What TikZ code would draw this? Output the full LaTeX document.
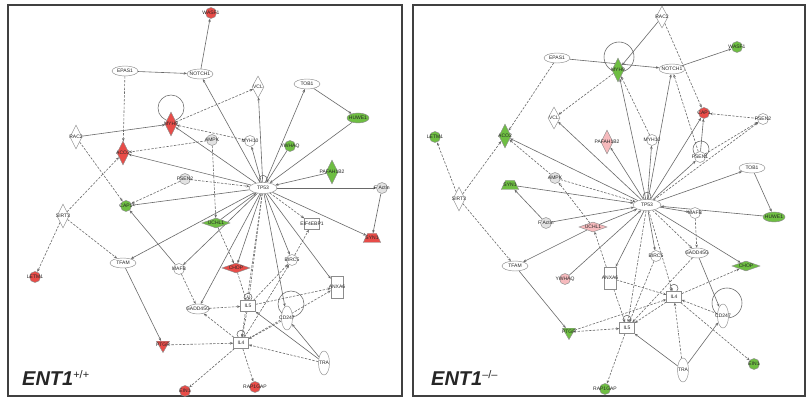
\documentclass[tikz,border=0pt]{standalone}
\usepackage{fontspec}
\setsansfont{Liberation Sans}
\usetikzlibrary{shapes.geometric,arrows.meta}
\pgfdeclarelayer{bg}
\pgfdeclarelayer{edges}
\pgfsetlayers{bg,edges,main}
\definecolor{ipred}{RGB}{232,76,72}
\definecolor{ippink}{RGB}{246,186,189}
\definecolor{ipgreen}{RGB}{110,190,66}
\definecolor{ipgray}{RGB}{226,226,226}
\definecolor{edgec}{RGB}{105,105,105}
\tikzset{
  lb/.style={font=\fontsize{5}{6}\selectfont\sffamily, text=black!85, inner sep=0pt},
  nd/.style={draw=black!45, line width=0.45pt, inner sep=0pt, fill=white, label={[lb]center:#1}},
  ell/.style={nd=#1, ellipse, minimum width=26pt, minimum height=10pt},
  vell/.style={nd=#1, ellipse, minimum width=11pt, minimum height=24pt},
  circ/.style={nd=#1, circle, minimum size=11pt},
  dia/.style={nd=#1, diamond, minimum width=12pt, minimum height=24pt},
  hdia/.style={nd=#1, diamond, minimum width=28pt, minimum height=10pt},
  boxn/.style={nd=#1, rectangle, minimum width=15pt, minimum height=11pt},
  tallbox/.style={nd=#1, rectangle, minimum width=12pt, minimum height=22pt},
  tri/.style={nd=#1, regular polygon, regular polygon sides=3, shape border rotate=180, minimum size=15pt},
  trap/.style={nd=#1, trapezium, trapezium left angle=65, trapezium right angle=65, inner sep=1pt, minimum width=13pt, minimum height=9pt},
  e/.style={draw=edgec, line width=0.6pt, -{Stealth[length=3.2pt,width=2.6pt]}},
  d/.style={e, dash pattern=on 2.4pt off 1.4pt},
  lp/.style={draw=black!60, line width=0.55pt},
  frame/.style={draw=black!75, line width=1.6pt},
  title/.style={font=\sffamily\bfseries\itshape\fontsize{20}{22}\selectfont, text=black!85, inner sep=0pt, anchor=base west}
}
\begin{document}
\begin{tikzpicture}[x=1pt,y=-1pt]
\useasboundingbox (0,0) rectangle (807,398);
\begin{pgfonlayer}{bg}
\fill[white] (0,0) rectangle (807,398);
\end{pgfonlayer}
\draw[frame] (8,5) rectangle (402,396);
\draw[frame] (413,5) rectangle (805,396);

% ================= LEFT PANEL =================
\node[ell=EPAS1] (LEPAS1) at (125,71) {};
\node[ell=NOTCH1] (LNOTCH1) at (200,74) {};
\node[circ=WASF1, fill=ipred] (LWASF1) at (211,13) {};
\node[dia=MYH9, fill=ipred] (LMYH9) at (171,124) {};
\node[dia=RAC2] (LRAC2) at (76,137) {};
\node[dia=ACO2, fill=ipred] (LACO2) at (123,153) {};
\node[dia=VCL, minimum height=22pt] (LVCL) at (258,87) {};
\node[ell=TOB1] (LTOB1) at (307,84) {};
\node[ell=HUWE1, fill=ipgreen, minimum width=22pt] (LHUWE1) at (358,118) {};
\node[circ=AMPK, fill=ipgray] (LAMPK) at (212,140) {};
\node[circ=MYH10] (LMYH10) at (250,141) {};
\node[circ=YWHAQ, fill=ipgreen] (LYWHAQ) at (290,146) {};
\node[dia=PAFAH1B2, fill=ipgreen] (LPAFAH1B2) at (332,172) {};
\node[circ=PSEN2, fill=ipgray] (LPSEN2) at (185,179) {};
\node[ell=TP53, minimum width=28pt, minimum height=11pt] (LTP53) at (263,188) {};
\node[circ=F Actin, fill=ipgray] (LFACTIN) at (382,188) {};
\node[dia=SIRT3] (LSIRT3) at (63,216) {};
\node[circ=CAP1, fill=ipgreen] (LCAP1) at (126,206) {};
\node[ell=TFAM] (LTFAM) at (123,263) {};
\node[circ=LETM1, fill=ipred] (LLETM1) at (35,277) {};
\node[circ=MAFB] (LMAFB) at (179,269) {};
\node[hdia=UCHL1, fill=ipgreen] (LUCHL1) at (216,223) {};
\node[boxn=EIF4EBP1] (LEIF4EBP1) at (312,224) {};
\node[trap=SYN1, fill=ipred] (LSYN1) at (372,238) {};
\node[hdia=CHOP, fill=ipred] (LCHOP) at (236,268) {};
\node[circ=BIRC5] (LBIRC5) at (292,260) {};
\node[tallbox=ANXA6] (LANXA6) at (337,287) {};
\node[boxn=IL5] (LIL5) at (248,306) {};
\node[ell=GADD45G, minimum width=22pt] (LGADD) at (198,309) {};
\node[vell=CD247] (LCD247) at (287,318) {};
\node[boxn=IL4] (LIL4) at (241,343) {};
\node[tri=PTGR, fill=ipred] (LPTGR) at (163,345) {};
\node[vell=TRA] (LTRA) at (324,363) {};
\node[circ=RAP1GAP, fill=ipred] (LRAP1GAP) at (255,387) {};
\node[circ=EIN1, fill=ipred] (LEIN1) at (185,391) {};

\begin{pgfonlayer}{edges}
\draw[lp] (LMYH9.center) ++(0,-16) circle (13);
\draw[lp] (LCD247.center) ++(4,-14) circle (13);
\draw[lp] (LTP53.north) ++(0,-3) circle (4);
\draw[lp] (LIL5.north) ++(0,-3) circle (4);
\draw[lp] (LIL4.north) ++(0,-3) circle (4);
\draw[e] (LEPAS1) -- (LNOTCH1);
\draw[d] (LEPAS1) -- (LACO2);
\draw[e] (LNOTCH1) -- (LWASF1);
\draw[e] (LRAC2) -- (LMYH9);
\draw[d] (LRAC2) -- (LCAP1);
\draw[d] (LSIRT3) -- (LACO2);
\draw[d] (LSIRT3) -- (LLETM1);
\draw[d] (LSIRT3) -- (LTFAM);
\draw[e] (LTFAM) -- (LPTGR);
\draw[e] (LTP53) -- (LTFAM);
\draw[e] (LTP53) -- (LCAP1);
\draw[e] (LMAFB) -- (LCAP1);
\draw[e] (LTP53) -- (LMAFB);
\draw[d] (LPSEN2) -- (LCAP1);
\draw[d] (LPSEN2) -- (LTP53);
\draw[e] (LTP53) -- (LACO2);
\draw[d] (LAMPK) -- (LACO2);
\draw[d] (LMYH10) -- (LMYH9);
\draw[e] (LTP53) -- (LMYH9);
\draw[d] (LMYH9) -- (LVCL);
\draw[e] (LTP53) -- (LVCL);
\draw[e] (LTP53) -- (LNOTCH1);
\draw[e] (LTP53) -- (LTOB1);
\draw[e] (LTOB1) -- (LHUWE1);
\draw[e] (LHUWE1) -- (LTP53);
\draw[e] (LYWHAQ) -- (LTP53);
\draw[e] (LPAFAH1B2) -- (LTP53);
\draw[e] (LTP53) -- (LFACTIN);
\draw[e] (LFACTIN) -- (LSYN1);
\draw[e] (LTP53) -- (LMYH10);
\draw[d] (LAMPK) -- (LUCHL1);
\draw[e] (LUCHL1) -- (LTP53);
\draw[d] (LUCHL1) -- (LCHOP);
\draw[e] (LTP53) -- (LCHOP);
\draw[d] (LTP53) -- (LEIF4EBP1);
\draw[e] (LTP53) -- (LBIRC5);
\draw[e] (LTP53) -- (LANXA6);
\draw[e] (LTP53) -- (LSYN1);
\draw[e] (LTP53) -- (LGADD);
\draw[d] (LTP53) -- (LIL5);
\draw[d] (LTP53) -- (LIL4);
\draw[e] (LTP53) -- (LCD247);
\draw[d] (LBIRC5) -- (LEIF4EBP1);
\draw[d] (LIL5) -- (LBIRC5);
\draw[d] (LIL4) -- (LBIRC5);
\draw[d] (LGADD) -- (LIL5);
\draw[d] (LIL4) -- (LANXA6);
\draw[d] (LIL5) -- (LANXA6);
\draw[e] (LTRA) -- (LCD247);
\draw[d] (LTRA) -- (LIL4);
\draw[e] (LTRA) -- (LIL5);
\draw[d] (LCD247) -- (LIL4);
\draw[d] (LIL4) -- (LRAP1GAP);
\draw[d] (LIL4) -- (LEIN1);
\draw[d] (LPTGR) -- (LIL4);
\draw[d] (LMAFB) -- (LGADD);
\draw[d] (LIL4) -- (LGADD);
\draw[d] (LCHOP) -- (LIL5);
\draw[d] (LIL5) -- (LIL4);
\end{pgfonlayer}

\node[title] (LT) at (22,386) {ENT1\textsuperscript{\mdseries\upshape\fontsize{11}{12}\selectfont +/+}};

% ================= RIGHT PANEL =================
\node[dia=RAC2, minimum height=22pt] (RRAC2) at (662,17) {};
\node[ell=EPAS1] (REPAS1) at (557,58) {};
\node[dia=MYH9, fill=ipgreen] (RMYH9) at (618,70) {};
\node[ell=NOTCH1] (RNOTCH1) at (672,69) {};
\node[circ=WASF1, fill=ipgreen] (RWASF1) at (737,47) {};
\node[circ=LETM1, fill=ipgreen] (RLETM1) at (435,137) {};
\node[dia=ACO2, fill=ipgreen] (RACO2) at (505,136) {};
\node[dia=VCL, minimum height=22pt] (RVCL) at (554,118) {};
\node[dia=PAFAH1B2, fill=ippink] (RPAFAH1B2) at (607,142) {};
\node[circ=MYH10] (RMYH10) at (652,140) {};
\node[circ=CAP1, fill=ipred] (RCAP1) at (704,113) {};
\node[circ=PSEN2] (RPSEN2) at (763,119) {};
\node[circ=PSEN1] (RPSEN1) at (700,157) {};
\node[ell=TOB1] (RTOB1) at (752,168) {};
\node[circ=AMPK, fill=ipgray] (RAMPK) at (555,178) {};
\node[trap=SYN1, fill=ipgreen] (RSYN1) at (510,185) {};
\node[ell=TP53, minimum width=28pt, minimum height=11pt] (RTP53) at (647,205) {};
\node[circ=MAFB] (RMAFB) at (695,213) {};
\node[ell=HUWE1, fill=ipgreen, minimum width=22pt] (RHUWE1) at (774,217) {};
\node[dia=SIRT3] (RSIRT3) at (459,199) {};
\node[circ=F Actin, fill=ipgray] (RFACTIN) at (546,223) {};
\node[hdia=UCHL1, fill=ippink] (RUCHL1) at (593,227) {};
\node[circ=BIRC5] (RBIRC5) at (656,256) {};
\node[ell=GADD45G, minimum width=22pt] (RGADD) at (697,253) {};
\node[hdia=CHOP, fill=ipgreen] (RCHOP) at (746,266) {};
\node[ell=TFAM] (RTFAM) at (515,266) {};
\node[circ=YWHAQ, fill=ippink] (RYWHAQ) at (565,279) {};
\node[tallbox=ANXA6] (RANXA6) at (610,278) {};
\node[boxn=IL4] (RIL4) at (674,297) {};
\node[vell=CD247] (RCD247) at (723,316) {};
\node[boxn=IL5] (RIL5) at (627,328) {};
\node[tri=PTGR, fill=ipgreen] (RPTGR) at (569,332) {};
\node[vell=TRA] (RTRA) at (683,370) {};
\node[circ=EIN1, fill=ipgreen] (REIN1) at (754,364) {};
\node[circ=RAP1GAP, fill=ipgreen] (RRAP1GAP) at (605,389) {};

\begin{pgfonlayer}{edges}
\draw[lp] (RMYH9.center) ++(1,-13) circle (15);
\draw[lp] (RCD247.center) ++(4,-13) circle (15);
\draw[lp] (RPSEN1.center) ++(1,-8) circle (8);
\draw[lp] (RTP53.north) ++(0,-3) circle (4);
\draw[lp] (RIL5.north) ++(0,-3) circle (4);
\draw[lp] (RIL4.north) ++(0,-3) circle (4);
\draw[e] (REPAS1) -- (RNOTCH1);
\draw[d] (REPAS1) -- (RACO2);
\draw[d] (RMYH9) -- (RVCL);
\draw[e] (RRAC2) -- (RMYH9);
\draw[d] (RRAC2) -- (RCAP1);
\draw[e] (RNOTCH1) -- (RWASF1);
\draw[e] (RTP53) -- (RNOTCH1);
\draw[e] (RTP53) -- (RMYH9);
\draw[d] (RMYH10) -- (RMYH9);
\draw[e] (RTP53) -- (RMYH10);
\draw[e] (RTP53) -- (RCAP1);
\draw[e] (RPSEN1) -- (RCAP1);
\draw[d] (RPSEN2) -- (RCAP1);
\draw[d] (RPSEN1) -- (RPSEN2);
\draw[d] (RTP53) -- (RPSEN2);
\draw[d] (RPSEN1) -- (RNOTCH1);
\draw[e] (RTP53) -- (RPSEN1);
\draw[e] (RTP53) -- (RTOB1);
\draw[e] (RTOB1) -- (RHUWE1);
\draw[e] (RHUWE1) -- (RTP53);
\draw[e] (RTP53) -- (RPAFAH1B2);
\draw[e] (RTP53) -- (RVCL);
\draw[e] (RTP53) -- (RACO2);
\draw[d] (RAMPK) -- (RACO2);
\draw[e] (RSYN1) -- (RTP53);
\draw[d] (RAMPK) -- (RTP53);
\draw[e] (RFACTIN) -- (RSYN1);
\draw[e] (RFACTIN) -- (RTP53);
\draw[d] (RUCHL1) -- (RAMPK);
\draw[e] (RUCHL1) -- (RTP53);
\draw[e] (RUCHL1) -- (RTFAM);
\draw[e] (RYWHAQ) -- (RTP53);
\draw[d] (RSIRT3) -- (RACO2);
\draw[d] (RSIRT3) -- (RLETM1);
\draw[d] (RSIRT3) -- (RTFAM);
\draw[e] (RTFAM) -- (RPTGR);
\draw[d] (RPTGR) -- (RIL5);
\draw[d] (RPTGR) -- (RIL4);
\draw[d] (RANXA6) -- (RUCHL1);
\draw[e] (RTP53) -- (RANXA6);
\draw[e] (RTP53) -- (RBIRC5);
\draw[d] (RTP53) -- (RGADD);
\draw[e] (RTP53) -- (RMAFB);
\draw[e] (RTP53) -- (RCHOP);
\draw[d] (RTP53) -- (RIL5);
\draw[d] (RTP53) -- (RIL4);
\draw[d] (RMAFB) -- (RGADD);
\draw[e] (RGADD) -- (RCD247);
\draw[d] (RIL4) -- (RCHOP);
\draw[d] (RIL4) -- (REIN1);
\draw[d] (RIL5) -- (RRAP1GAP);
\draw[e] (RTRA) -- (RCD247);
\draw[d] (RTRA) -- (RIL4);
\draw[e] (RTRA) -- (RIL5);
\draw[d] (RCD247) -- (RIL4);
\draw[d] (RANXA6) -- (RIL5);
\draw[d] (RANXA6) -- (RIL4);
\draw[d] (RBIRC5) -- (RIL5);
\draw[d] (RGADD) -- (RIL5);
\draw[d] (RIL4) -- (RIL5);
\end{pgfonlayer}

\node[title] (RT) at (431,386) {ENT1\textsuperscript{\mdseries\upshape\fontsize{11}{12}\selectfont –/–}};
\end{tikzpicture}
\end{document}
